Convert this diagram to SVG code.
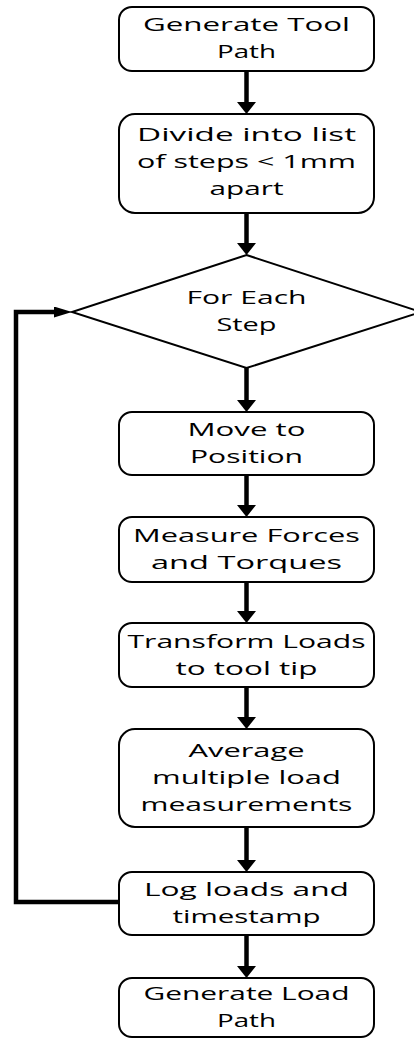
<svg xmlns="http://www.w3.org/2000/svg" width="414" height="1039" viewBox="0 0 414 1039">
<style>
.box{fill:#fff;stroke:#000;stroke-width:2}
.t{font-family:"Open Sans","Noto Sans",sans-serif;font-size:18px;fill:#000;text-anchor:middle}
.c{fill:none;stroke:#000;stroke-width:4.5}
</style>
<defs>
<marker id="av" markerUnits="userSpaceOnUse" viewBox="0 0 12 19" refX="0" refY="9.5" markerWidth="12" markerHeight="19" orient="auto"><path d="M0,0 L12,9.5 L0,19 z" fill="#000"/></marker>
<marker id="ah" markerUnits="userSpaceOnUse" viewBox="0 0 18 11" refX="0" refY="5.5" markerWidth="18" markerHeight="11" orient="auto"><path d="M0,0 L18,5.5 L0,11 z" fill="#000"/></marker>
</defs>
<rect width="414" height="1039" fill="#fff"/>
<g id="connectors">
<path class="c" d="M246.5,71 V102" marker-end="url(#av)"/>
<path class="c" d="M246.5,213 V243" marker-end="url(#av)"/>
<path class="c" d="M246.5,368 V400" marker-end="url(#av)"/>
<path class="c" d="M246.5,475 V505" marker-end="url(#av)"/>
<path class="c" d="M246.5,582 V611" marker-end="url(#av)"/>
<path class="c" d="M246.5,687 V717" marker-end="url(#av)"/>
<path class="c" d="M246.5,827 V860" marker-end="url(#av)"/>
<path class="c" d="M246.5,935 V966" marker-end="url(#av)"/>
<path class="c" d="M119,902 H16 V312 H54" marker-end="url(#ah)"/>
</g>
<g id="n1"><rect class="box" x="119" y="7" width="255" height="64" rx="13"/>
<text class="t" x="246.5" y="31" textLength="207" lengthAdjust="spacingAndGlyphs">Generate Tool</text>
<text class="t" x="246.5" y="58" textLength="59" lengthAdjust="spacingAndGlyphs">Path</text></g>
<g id="n2"><rect class="box" x="119" y="114" width="255" height="99" rx="16"/>
<text class="t" x="246.5" y="141" textLength="219" lengthAdjust="spacingAndGlyphs">Divide into list</text>
<text class="t" x="246.5" y="168" textLength="219" lengthAdjust="spacingAndGlyphs">of steps &lt; 1mm</text>
<text class="t" x="246.5" y="195" textLength="74" lengthAdjust="spacingAndGlyphs">apart</text></g>
<g id="n3"><polygon class="box" points="246.5,255 421,312 246.5,368 72,312"/>
<text class="t" x="246.5" y="304" textLength="120" lengthAdjust="spacingAndGlyphs">For Each</text>
<text class="t" x="246.5" y="331" textLength="60" lengthAdjust="spacingAndGlyphs">Step</text></g>
<g id="n4"><rect class="box" x="119" y="412" width="255" height="63" rx="13"/>
<text class="t" x="246.5" y="436" textLength="118" lengthAdjust="spacingAndGlyphs">Move to</text>
<text class="t" x="246.5" y="463" textLength="113" lengthAdjust="spacingAndGlyphs">Position</text></g>
<g id="n5"><rect class="box" x="119" y="517" width="255" height="65" rx="13"/>
<text class="t" x="246.5" y="542" textLength="227" lengthAdjust="spacingAndGlyphs">Measure Forces</text>
<text class="t" x="246.5" y="569" textLength="191" lengthAdjust="spacingAndGlyphs">and Torques</text></g>
<g id="n6"><rect class="box" x="119" y="623" width="255" height="64" rx="13"/>
<text class="t" x="246.5" y="648" textLength="238" lengthAdjust="spacingAndGlyphs">Transform Loads</text>
<text class="t" x="246.5" y="675" textLength="142" lengthAdjust="spacingAndGlyphs">to tool tip</text></g>
<g id="n7"><rect class="box" x="119" y="729" width="255" height="98" rx="16"/>
<text class="t" x="246.5" y="757" textLength="116" lengthAdjust="spacingAndGlyphs">Average</text>
<text class="t" x="246.5" y="784" textLength="189" lengthAdjust="spacingAndGlyphs">multiple load</text>
<text class="t" x="246.5" y="811" textLength="212" lengthAdjust="spacingAndGlyphs">measurements</text></g>
<g id="n8"><rect class="box" x="119" y="872" width="255" height="63" rx="13"/>
<text class="t" x="246.5" y="896" textLength="205" lengthAdjust="spacingAndGlyphs">Log loads and</text>
<text class="t" x="246.5" y="923" textLength="148" lengthAdjust="spacingAndGlyphs">timestamp</text></g>
<g id="n9"><rect class="box" x="119" y="978" width="255" height="59" rx="13"/>
<text class="t" x="246.5" y="1000" textLength="206" lengthAdjust="spacingAndGlyphs">Generate Load</text>
<text class="t" x="246.5" y="1027" textLength="59" lengthAdjust="spacingAndGlyphs">Path</text></g>
</svg>
